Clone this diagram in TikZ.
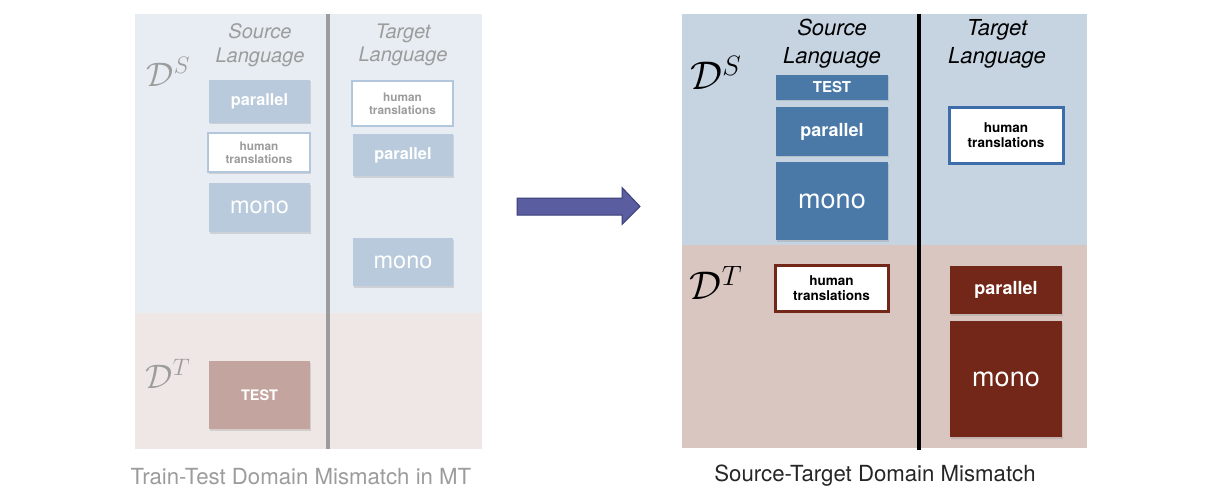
\RequirePackage{fix-cm}
\documentclass[tikz,border=0pt]{standalone}
\usepackage{fontspec}
\setmainfont{TeX Gyre Heros}
\usetikzlibrary{shadows}
\definecolor{lpanB}{HTML}{E7EDF2}
\definecolor{lpanP}{HTML}{EFE7E5}
\definecolor{lbox}{HTML}{B8CADB}
\definecolor{lborder}{HTML}{B3C7DC}
\definecolor{ltest}{HTML}{C4A49E}
\definecolor{lgray}{HTML}{9C9C9C}
\definecolor{rpanB}{HTML}{C6D4E1}
\definecolor{rpanP}{HTML}{D9C6C1}
\definecolor{rbox}{HTML}{4A79A8}
\definecolor{rborder}{HTML}{3E6EA9}
\definecolor{redbox}{HTML}{722719}
\definecolor{arrfill}{HTML}{5A5EA0}
\definecolor{arrline}{HTML}{3B3E78}
\tikzset{
  basebox/.style={inner sep=0pt, outer sep=0pt, align=center, drop shadow={opacity=0.25, shadow xshift=0.8pt, shadow yshift=-1.5pt}},
  lfill/.style={basebox, fill=lbox, text=white},
  lframe/.style={basebox, fill=white, draw=lborder, line width=2.5pt, text=lgray, font=\bfseries\fontsize{11.8}{13}\selectfont},
  rfill/.style={basebox, fill=rbox, text=white},
  rframe/.style={basebox, fill=white, draw=rborder, line width=3pt, text=black, font=\bfseries\fontsize{13.5}{15}\selectfont},
  redfill/.style={basebox, fill=redbox, text=white},
  redframe/.style={basebox, fill=white, draw=redbox, line width=3pt, text=black, font=\bfseries\fontsize{13.5}{15}\selectfont},
  lpar/.style={font=\bfseries\fontsize{16.3}{18}\selectfont},
  rpar/.style={font=\bfseries\fontsize{18}{20}\selectfont},
  lmon/.style={font=\fontsize{23.5}{25}\selectfont},
  rmon/.style={font=\fontsize{27}{29}\selectfont},
  ltst/.style={font=\bfseries\fontsize{14.5}{16}\selectfont},
  rtst/.style={font=\bfseries\fontsize{15}{16}\selectfont},
  llang/.style={align=center, font=\itshape\fontsize{20}{23.5}\selectfont},
  rlang/.style={align=center, font=\itshape\fontsize{22}{28}\selectfont},
  ldom/.style={inner sep=0pt, font=\fontsize{34}{36}\selectfont},
  rdom/.style={inner sep=0pt, font=\fontsize{40}{42}\selectfont},
  captext/.style={font=\fontsize{22.2}{24}\selectfont}
}
\begin{document}
\begin{tikzpicture}[x=1pt,y=-1pt]
\useasboundingbox (0,0) rectangle (1226,500);
\fill[white] (0,0) rectangle (1226,500);
% ---------------- left panel
\fill[lpanB] (135,14) rectangle (482,313);
\fill[lpanP] (135,313) rectangle (482,449);
\draw[lgray, line width=3.5pt] (328,14) -- (328,449);
\node[llang, text=lgray] (lsrc) at (260,45) {Source\\Language};
\node[llang, text=lgray] (ltgt) at (403,45) {Target\\Language};
\node[ldom, text=lgray] (lDS) at (168.5,72) {$\mathcal{D}^S$};
\node[ldom, text=lgray] (lDT) at (168,374) {$\mathcal{D}^T$};
\node[lfill, lpar, minimum width=101pt, minimum height=43pt] (lsp) at (259.5,101.5) {parallel};
\node[lframe, minimum width=102pt, minimum height=39pt] (lsh) at (259,152.5) {human\\translations};
\node[lfill, lmon, minimum width=101pt, minimum height=49pt] (lsm) at (259.5,207.5) {mono};
\node[lframe, minimum width=101pt, minimum height=45pt] (lth) at (402.5,103.5) {human\\translations};
\node[lfill, lpar, minimum width=100pt, minimum height=42pt] (ltp) at (403,155) {parallel};
\node[lfill, lmon, minimum width=100pt, minimum height=48pt] (ltm) at (403,262) {mono};
\node[basebox, fill=ltest, text=white, ltst, minimum width=101pt, minimum height=68pt] (ltest) at (259.5,395) {TEST};
\node[captext, text=lgray] (lcap) at (301,477) {Train-Test Domain Mismatch in MT};
% ---------------- arrow
\draw[arrline, fill=arrfill, line width=1pt]
  (517,198) -- (622,198) -- (622,187.5) -- (640,206.5) -- (622,224.5) -- (622,215) -- (517,215) -- cycle;
% ---------------- right panel
\fill[rpanB] (682,14) rectangle (1087,245);
\fill[rpanP] (682,245) rectangle (1087,448);
\draw[black, line width=4.5pt] (919,14) -- (919,450);
\node[rlang, text=black] (rsrc) at (832,44) {Source\\Language};
\node[rlang, text=black] (rtgt) at (997,44) {Target\\Language};
\node[rdom, text=black] (rDS) at (716,73) {$\mathcal{D}^S$};
\node[rdom, text=black] (rDT) at (716,283) {$\mathcal{D}^T$};
\node[rfill, rtst, minimum width=112pt, minimum height=25pt] (rtest) at (832,87.5) {TEST};
\node[rfill, rpar, minimum width=112pt, minimum height=49pt] (rsp) at (832,131.5) {parallel};
\node[rfill, rmon, minimum width=112pt, minimum height=78pt] (rsm) at (832,201) {mono};
\node[rframe, minimum width=114pt, minimum height=55pt] (rth) at (1006,135.5) {human\\translations};
\node[redframe, minimum width=113pt, minimum height=46pt] (rsh) at (831.5,288) {human\\translations};
\node[redfill, rpar, minimum width=112pt, minimum height=48pt] (rtp) at (1006,290) {parallel};
\node[redfill, rmon, minimum width=112pt, minimum height=116pt] (rtm) at (1006,379) {mono};
\node[captext, text=black!85] (rcap) at (875,476) {Source-Target Domain Mismatch};
\end{tikzpicture}
\end{document}
